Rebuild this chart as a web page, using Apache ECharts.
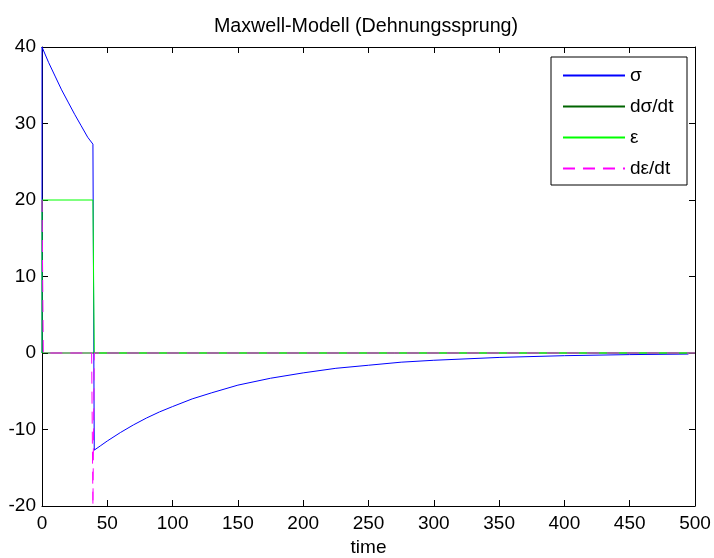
<!DOCTYPE html>
<html>
<head>
<meta charset="utf-8">
<script src="https://cdn.jsdelivr.net/npm/echarts@6/dist/echarts.min.js"></script>
<style>
  html, body { margin: 0; padding: 0; background: #fff; }
  #chart { width: 714px; height: 558px; }
</style>
</head>
<body>
<div id="chart"></div>
<script>
// Maxwell model: stress and strain response to a strain step (on at t=0, off at t~39)
const sigmaTime = [0, 0, 5, 10, 15, 20, 25, 30, 35, 39, 40, 45, 50, 60, 70, 80, 90, 100, 115, 130, 150, 175, 200, 225, 250, 275, 300, 350, 400, 450, 495];
const sigmaValues = [0, 40, 38.0, 36.2, 34.4, 32.8, 31.2, 29.7, 28.2, 27.3, -12.7, -12.1, -11.5, -10.4, -9.4, -8.5, -7.7, -7.0, -6.0, -5.2, -4.2, -3.3, -2.6, -2.0, -1.6, -1.2, -0.95, -0.58, -0.35, -0.21, -0.14];

const dSigmaTime = [0, 40, 500];
const dSigmaValues = [0, 0, 0];

const epsTime = [0, 0, 39, 40, 500];
const epsValues = [0, 20, 20, 0, 0];

const dEpsTime = [0, 1, 38, 39, 40, 500];
const dEpsValues = [20, 0, 0, -20, 0, 0];

const seriesNames = ['σ', 'dσ/dt', 'ε', 'dε/dt'];
const xTicks = { min: 0, max: 500, step: 50 };
const yTicks = { min: -20, max: 40, step: 10 };

const pairs = (xs, ys) => xs.map((x, i) => [x, ys[i]]);

const FONT = '"Liberation Sans", Arial, Helvetica, sans-serif';
const FS = 19;
const axisLineStyle = { color: '#000', width: 1 };

function mkLine(name, xs, ys, color, type) {
  return {
    name: name,
    type: 'line',
    xAxisIndex: 0,
    yAxisIndex: 0,
    data: pairs(xs, ys),
    symbol: 'none',
    showSymbol: false,
    animation: false,
    clip: true,
    lineStyle: { color: color, width: 1, type: type || 'solid', dashOffset: 0 },
    itemStyle: { color: color },
    emphasis: { disabled: true }
  };
}

const chart = echarts.init(document.getElementById('chart'), null, { renderer: 'canvas' });

chart.setOption({
  backgroundColor: '#fff',
  animation: false,
  textStyle: { fontFamily: FONT },
  title: {
    text: 'Maxwell-Modell (Dehnungssprung)',
    left: 361,
    top: 12,
    textAlign: 'center',
    textStyle: { fontFamily: FONT, fontSize: 19.7, fontWeight: 'normal', color: '#000' }
  },
  grid: { left: 42, top: 47, width: 653, height: 459, containLabel: false, outerBoundsMode: 'none' },
  graphic: [{
    type: 'rect',
    z: 3,
    shape: { x: 551, y: 57, width: 136, height: 128 },
    style: { fill: '#fff', stroke: '#000', lineWidth: 1 }
  }],
  legend: {
    orient: 'vertical',
    left: 562,
    top: 66,
    padding: 0,
    itemWidth: 62,
    itemHeight: 18,
    itemGap: 12,
    z: 5,
    selectedMode: false,
    data: seriesNames,
    itemStyle: { opacity: 0 },
    textStyle: { fontFamily: FONT, fontSize: FS, color: '#000' }
  },
  xAxis: [{
    type: 'value',
    position: 'bottom',
    min: xTicks.min, max: xTicks.max, interval: xTicks.step,
    name: 'time',
    nameLocation: 'middle',
    nameGap: 31,
    nameTextStyle: { fontFamily: FONT, fontSize: FS, color: '#000' },
    axisLine: { show: true, onZero: false, lineStyle: axisLineStyle },
    axisTick: { show: true, inside: true, length: 6, lineStyle: axisLineStyle },
    axisLabel: { fontFamily: FONT, fontSize: FS, color: '#000', margin: 8 },
    splitLine: { show: false }
  }, {
    type: 'value',
    position: 'top',
    min: xTicks.min, max: xTicks.max, interval: xTicks.step,
    axisLine: { show: true, onZero: false, lineStyle: axisLineStyle },
    axisTick: { show: true, inside: true, length: 6, lineStyle: axisLineStyle },
    axisLabel: { show: false },
    splitLine: { show: false }
  }],
  yAxis: [{
    type: 'value',
    position: 'left',
    min: yTicks.min, max: yTicks.max, interval: yTicks.step,
    axisLine: { show: true, onZero: false, lineStyle: axisLineStyle },
    axisTick: { show: true, inside: true, length: 6, lineStyle: axisLineStyle },
    axisLabel: { fontFamily: FONT, fontSize: FS, color: '#000', margin: 6 },
    splitLine: { show: false }
  }, {
    type: 'value',
    position: 'right',
    min: yTicks.min, max: yTicks.max, interval: yTicks.step,
    axisLine: { show: true, onZero: false, lineStyle: axisLineStyle },
    axisTick: { show: true, inside: true, length: 6, lineStyle: axisLineStyle },
    axisLabel: { show: false },
    splitLine: { show: false }
  }],
  series: [
    mkLine(seriesNames[0], sigmaTime, sigmaValues, '#0000ff'),
    mkLine(seriesNames[1], dSigmaTime, dSigmaValues, '#006400'),
    mkLine(seriesNames[2], epsTime, epsValues, '#00ff00'),
    mkLine(seriesNames[3], dEpsTime, dEpsValues, '#ff00ff', [12, 8])
  ]
});
</script>
</body>
</html>
